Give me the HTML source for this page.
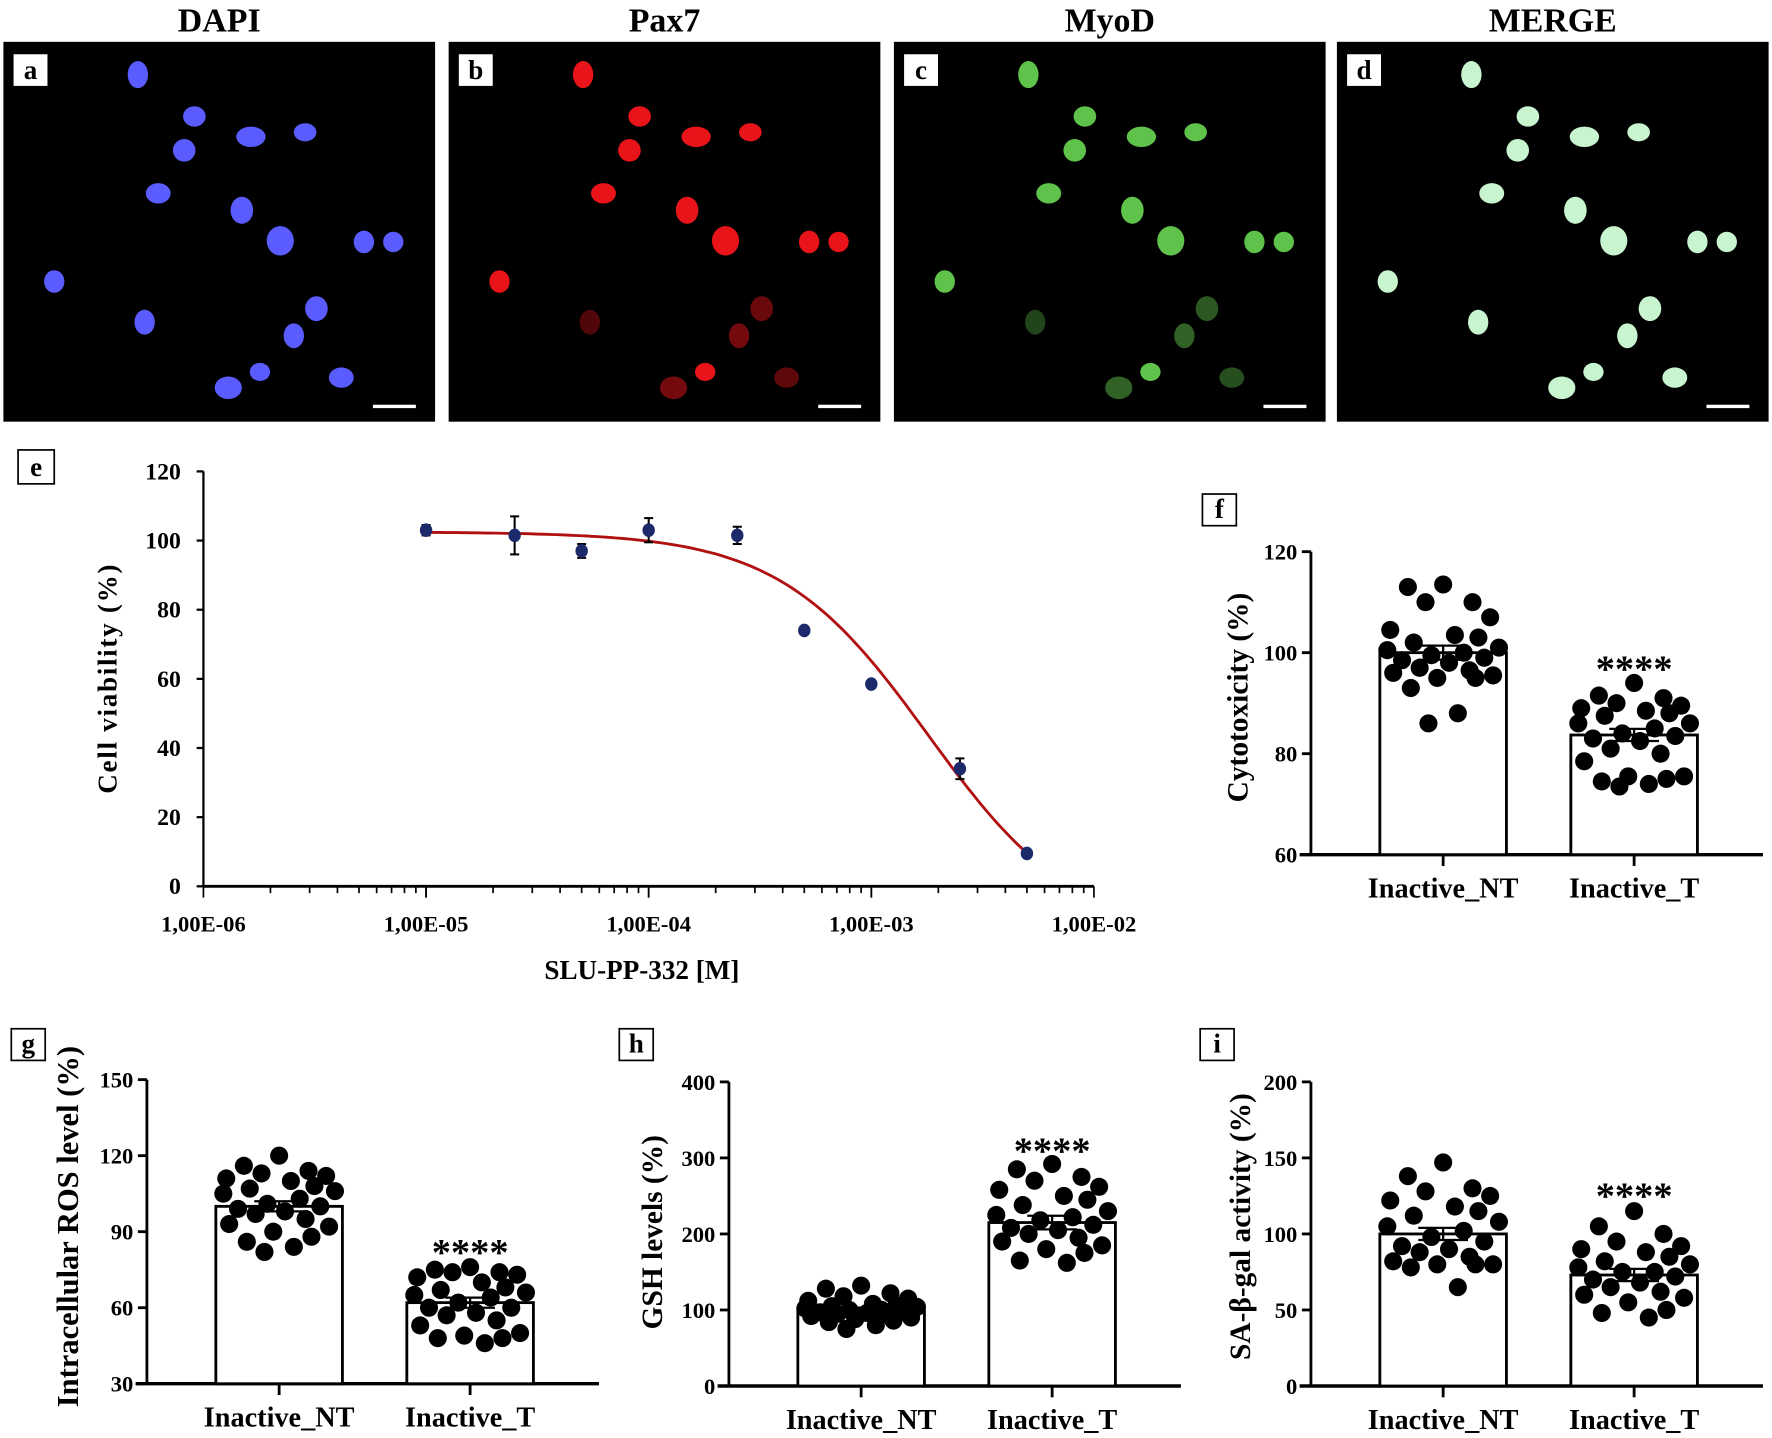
<!DOCTYPE html>
<html><head><meta charset="utf-8"><style>
html,body{margin:0;padding:0;background:#fff;}
svg{display:block;}
text{font-family:"Liberation Serif",serif;font-weight:bold;fill:#000;}
</style></head><body>
<svg id="fig" width="1772" height="1438" viewBox="0 0 1568 1272" preserveAspectRatio="none" xmlns="http://www.w3.org/2000/svg">
<rect width="1568" height="1272" fill="#fff"/>
</svg>
<script>
// ---------- Data ----------
const eConc = [1e-5, 2.5e-5, 5e-5, 1e-4, 2.5e-4, 5e-4, 1e-3, 2.5e-3, 5e-3];
const eViab = [103, 101.5, 97, 103, 101.5, 74, 58.5, 34, 9.5];
const eErr  = [1.5, 5.5, 2, 3.5, 2.5, 0.5, 0.5, 3, 0.5];
const eFitTop = 102.5, eFitBottom = -15, eFitIC50 = 1.8e-3, eFitHill = 1.3;
const eYTicks = [0, 20, 40, 60, 80, 100, 120];
const eXTickLabels = ["1,00E-06","1,00E-05","1,00E-04","1,00E-03","1,00E-02"];

const categories = ["Inactive_NT", "Inactive_T"];
const fNT = [113.5,113,110,110,107,104.5,103.5,103,102,101,100.5,100,99.5,99,98.5,98,97,96.5,96,95.5,95,95,93,88,86];
const fT  = [94,91.5,91,90,89.5,89,88.5,88,87.5,86,86,85,84,83.5,83,82.5,81,80,78.5,75.5,75.5,75,74.5,74,73.5];
const fMeans = [100, 83.7]; const fSEM = [1.4, 1.2];
const fTicks = [60, 80, 100, 120];
const gNT = [120,116,114,113,112,111,110,108,107,106,105,103,101,100,99,98,97,95,93,92,90,88,86,84,82];
const gT  = [76,75,74,74,73,72,70,68,67,66,65,64,62,60,60,58,57,55,53,50,49,48,48,46];
const gMeans = [100, 62]; const gSEM = [2, 2];
const gTicks = [30, 60, 90, 120, 150];
const hNT = [132,128,122,118,115,112,108,106,105,104,102,100,100,98,97,96,95,94,92,90,88,86,84,80,75];
const hT  = [292,285,275,270,262,258,250,245,238,230,225,222,218,212,208,205,200,195,190,185,180,175,165,162];
const hMeans = [100, 215]; const hSEM = [3, 9];
const hTicks = [0, 100, 200, 300, 400];
const iNT = [147,138,130,128,125,122,118,115,112,108,105,102,98,95,92,90,88,85,82,80,80,80,78,65];
const iT  = [115,105,100,95,92,90,88,85,82,80,78,75,75,72,70,68,65,62,60,58,55,50,48,45];
const iMeans = [100, 73]; const iSEM = [4, 4];
const iTicks = [0, 50, 100, 150, 200];

const NS = "http://www.w3.org/2000/svg";
const svg = document.getElementById('fig');
function mk(tag, attrs, parent, txt){
  const el = document.createElementNS(NS, tag);
  for (const k in attrs) el.setAttribute(k, attrs[k]);
  if (txt !== undefined) el.textContent = txt;
  (parent || svg).appendChild(el);
  return el;
}

// ---------- Microscopy panels ----------
const cells = [[119,29,9,12,1],[169,66,10,9,1],[160,96,10,10,1],[219,84,13,9,1],[267,80,10,8,1],[137,134,11,9,1],[211,149,10,12,1],[245,176,12,13,1],[319,177,9,10,1],[345,177,9,9,1],[45,212,9,10,1],[125,248,9,11,0.35],[277,236,10,11,0.45],[257,260,9,11,0.5],[227,292,9,8,1],[199,306,12,10,0.5],[299,297,11,9,0.4]];
const panels = [
  {x:3, title:"DAPI", label:"a", col:"#5a5cff"},
  {x:397, title:"Pax7", label:"b", col:"#e8141a"},
  {x:791, title:"MyoD", label:"c", col:"#5fc24a"},
  {x:1183, title:"MERGE", label:"d", col:"#c8f5d0"}
];
panels.forEach(p=>{
  const g = mk('g', {});
  
  
  const t = mk('text', {x:p.x+191, y:28, 'text-anchor':'middle', 'font-size':30}, g, p.title);
  
  
  mk('rect', {x:p.x, y:37, width:382, height:336, fill:'#000'}, g);
  cells.forEach(c=>{
    const op = (p.label==='a'||p.label==='d') ? 1 : c[4];
    mk('ellipse', {cx:p.x+c[0], cy:37+c[1], rx:c[2], ry:c[3], fill:p.col, opacity:op}, g);
  });
  mk('rect', {x:p.x+9, y:48, width:30, height:28, fill:'#fff'}, g);
  mk('text', {x:p.x+24, y:70, 'text-anchor':'middle', 'font-size':24, 'font-weight':'normal'}, g, p.label);
  mk('rect', {x:p.x+327, y:358, width:38, height:3, fill:'#fff'}, g);
});

function labelBox(x, y, w, h, txt){
  const g = mk('g', {});
  
  
  mk('rect', {x:x, y:y, width:w, height:h, fill:'#fff', stroke:'#000', 'stroke-width':1.5}, g);
  mk('text', {x:x+w/2, y:y+h-7, 'text-anchor':'middle', 'font-size':24, 'font-weight':'normal'}, g, txt);
}

// ---------- Panel e ----------
(function(){
  const g = mk('g', {});
  
  
  const x0=180, x1=968, y0=784, y1=417;
  const xs = v => x0 + (Math.log10(v) + 6) / 4 * (x1 - x0);
  const ys = v => y0 - v / 120 * (y0 - y1);
  labelBox(16, 398, 32, 30, 'e');
  mk('line', {x1:x0, y1:y1, x2:x0, y2:y0, stroke:'#000', 'stroke-width':2}, g);
  mk('line', {x1:x0, y1:y0, x2:x1, y2:y0, stroke:'#000', 'stroke-width':2.5}, g);
  eYTicks.forEach(v=>{
    mk('line', {x1:x0-6, y1:ys(v), x2:x0, y2:ys(v), stroke:'#000', 'stroke-width':2}, g);
    mk('text', {x:x0-20, y:ys(v)+7, 'text-anchor':'end', 'font-size':21}, g, String(v));
  });
  for (let d=-6; d<-2; d++){
    for (let m=1; m<=10; m++){
      const v = m * Math.pow(10, d);
      const major = (m===1 || m===10);
      mk('line', {x1:xs(v), y1:y0, x2:xs(v), y2:y0+(major?10:6), stroke:'#000', 'stroke-width':1.5}, g);
    }
  }
  eXTickLabels.forEach((l,i)=>{
    mk('text', {x:xs(Math.pow(10, i-6)), y:824, 'text-anchor':'middle', 'font-size':20}, g, l);
  });
  const xt = mk('text', {x:568, y:866, 'text-anchor':'middle', 'font-size':24}, g, 'SLU-PP-332 [M]');
  
  
  const yt = mk('text', {x:0, y:0, 'text-anchor':'middle', 'font-size':24, transform:'translate(103,600) rotate(-90)', 'letter-spacing':'1.5'}, g, 'Cell viability (%)');
  
  
  let d = '';
  const lmin = Math.log10(eConc[0]), lmax = Math.log10(eConc[eConc.length-1]);
  for (let i=0; i<=120; i++){
    const c = Math.pow(10, lmin + (lmax-lmin)*i/120);
    const v = eFitBottom + (eFitTop - eFitBottom) / (1 + Math.pow(c/eFitIC50, eFitHill));
    d += (i ? 'L' : 'M') + xs(c).toFixed(1) + ',' + ys(v).toFixed(1);
  }
  const fit = mk('path', {d:d, fill:'none', stroke:'#b01010', 'stroke-width':2.5}, g);
  
  
  eConc.forEach((c,i)=>{
    const x = xs(c), y = ys(eViab[i]);
    if (eErr[i] > 1){
      mk('line', {x1:x, y1:ys(eViab[i]+eErr[i]), x2:x, y2:ys(eViab[i]-eErr[i]), stroke:'#000', 'stroke-width':1.8}, g);
      mk('line', {x1:x-4, y1:ys(eViab[i]+eErr[i]), x2:x+4, y2:ys(eViab[i]+eErr[i]), stroke:'#000', 'stroke-width':1.8}, g);
      mk('line', {x1:x-4, y1:ys(eViab[i]-eErr[i]), x2:x+4, y2:ys(eViab[i]-eErr[i]), stroke:'#000', 'stroke-width':1.8}, g);
    }
    const p = mk('ellipse', {cx:x, cy:y, rx:5.5, ry:6, fill:'#1c2a6b'}, g);
    
    
  });
})();

// ---------- Bar + dot panels ----------
const jitter = [0,-0.6,0.5,-0.3,0.8,-0.9,0.2,0.6,-0.5,0.95,-0.95,0.35,-0.2,0.7,-0.7,0.1,-0.4,0.45,-0.85,0.85,-0.1,0.55,-0.55,0.25,-0.25];
function barPanel(cfg){
  const g = mk('g', {});
  
  
  const ys = v => cfg.yb - (v - cfg.ticks[0]) / (cfg.ticks[cfg.ticks.length-1] - cfg.ticks[0]) * (cfg.yb - cfg.yt);
  labelBox(cfg.lx, cfg.ly, 30, 28, cfg.label);
  mk('line', {x1:cfg.ax, y1:cfg.yt, x2:cfg.ax, y2:cfg.yb, stroke:'#000', 'stroke-width':2.5}, g);
  mk('line', {x1:cfg.ax-10, y1:cfg.yb, x2:cfg.ax+400, y2:cfg.yb, stroke:'#000', 'stroke-width':3}, g);
  cfg.ticks.forEach(v=>{
    mk('line', {x1:cfg.ax-8, y1:ys(v), x2:cfg.ax, y2:ys(v), stroke:'#000', 'stroke-width':2.5}, g);
    mk('text', {x:cfg.ax-12, y:ys(v)+7, 'text-anchor':'end', 'font-size':20}, g, String(v));
  });
  const yt = mk('text', {x:0, y:0, 'text-anchor':'middle', 'font-size':cfg.tf, transform:'translate('+cfg.tx+','+cfg.ty+') rotate(-90)'}, g, cfg.ytitle);
  
  
  const series = [cfg.nt, cfg.t];
  categories.forEach((cat,i)=>{
    const cx = cfg.ax + 117 + i*169;
    const b = mk('rect', {x:cx-56, y:ys(cfg.means[i]), width:112, height:cfg.yb-ys(cfg.means[i]), fill:'#fff', stroke:'#000', 'stroke-width':2.5}, g);
    
    
    mk('line', {x1:cx, y1:cfg.yb, x2:cx, y2:cfg.yb+10, stroke:'#000', 'stroke-width':2.5}, g);
    mk('text', {x:cx, y:cfg.yb+38, 'text-anchor':'middle', 'font-size':25}, g, cat);
    series[i].forEach((v,k)=>{
      const d = mk('circle', {cx:cx + jitter[k % jitter.length]*52, cy:ys(v), r:8, fill:'#000'}, g);
      
      
    });
    const m = cfg.means[i], s = cfg.sem[i];
    mk('line', {x1:cx, y1:ys(m+s), x2:cx, y2:ys(m-s), stroke:'#000', 'stroke-width':2}, g);
    mk('line', {x1:cx-22, y1:ys(m+s), x2:cx+22, y2:ys(m+s), stroke:'#000', 'stroke-width':2}, g);
    mk('line', {x1:cx-22, y1:ys(m-s), x2:cx+22, y2:ys(m-s), stroke:'#000', 'stroke-width':2}, g);
    if (i===1){
      const st = mk('text', {x:cx, y:cfg.sy, 'text-anchor':'middle', 'font-size':34}, g, '****');
      
      
    }
  });
}
barPanel({name:'cytotoxicity-chart', label:'f', lx:1064, ly:437, ax:1160, yt:488, yb:756, ticks:fTicks, nt:fNT, t:fT, means:fMeans, sem:fSEM, ytitle:'Cytotoxicity (%)', tf:26, tx:1104, ty:617, sy:603});
barPanel({name:'ros-chart', label:'g', lx:10, ly:910, ax:130, yt:955, yb:1224, ticks:gTicks, nt:gNT, t:gT, means:gMeans, sem:gSEM, ytitle:'Intracellular ROS level (%)', tf:27, tx:69, ty:1085, sy:1119});
barPanel({name:'gsh-chart', label:'h', lx:548, ly:910, ax:645, yt:957, yb:1226, ticks:hTicks, nt:hNT, t:hT, means:hMeans, sem:hSEM, ytitle:'GSH levels (%)', tf:26, tx:586, ty:1090, sy:1029});
barPanel({name:'sa-beta-gal-chart', label:'i', lx:1062, ly:910, ax:1160, yt:957, yb:1226, ticks:iTicks, nt:iNT, t:iT, means:iMeans, sem:iSEM, ytitle:'SA-β-gal activity (%)', tf:26, tx:1106, ty:1085, sy:1069});
</script>
</body></html>
